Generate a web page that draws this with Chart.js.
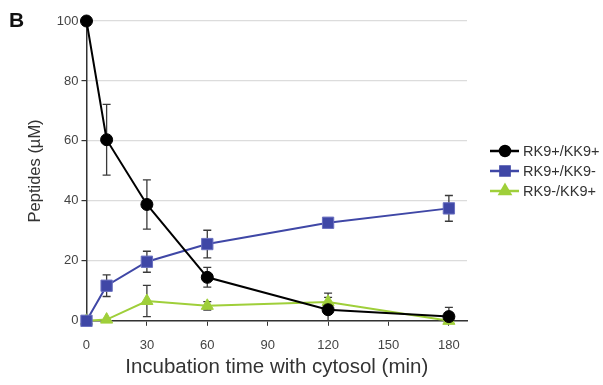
<!DOCTYPE html>
<html><head><meta charset="utf-8">
<script src="https://cdn.jsdelivr.net/npm/chart.js@4"></script>
<style>html,body{margin:0;padding:0;background:#fff;}#wrap{position:relative;width:603px;height:385px;}</style>
</head><body><div id="wrap"><canvas id="c" width="603" height="385"></canvas></div>
<script>
const times = [0, 10, 30, 60, 120, 180];
const xTicks = [0, 30, 60, 90, 120, 150, 180];
const seriesLabels = ['RK9+/KK9+', 'RK9+/KK9-', 'RK9-/KK9+'];
const rk9kk9 = [100, 60.4, 38.8, 14.5, 3.7, 1.4];
const rk9kk9Err = [0, 11.8, 8.2, 3.3, 5.5, 3.1];
const rk9only = [0, 11.7, 19.7, 25.6, 32.7, 37.5];
const rk9onlyErr = [0, 3.6, 3.5, 4.6, 0, 4.3];
const kk9only = [0, 0.4, 6.6, 5.0, 6.3, 0];
const kk9onlyErr = [0, 0, 5.2, 1.4, 1.5, 0];

const colors = ['#000000', '#3f47a6', '#9fcf3a'];
const styles = ['circle', 'rect', 'triangle'];
const radii = [6, 8, 7];
const errs = [rk9kk9Err, rk9onlyErr, kk9onlyErr];
const FONT = '"Liberation Sans", Arial, sans-serif';

const errorBars = {
  id: 'errorBars',
  beforeDatasetsDraw(chart) {
    const ctx = chart.ctx, xs = chart.scales.x, ys = chart.scales.y;
    ctx.save();
    ctx.strokeStyle = '#3a3a3a';
    ctx.lineWidth = 1.3;
    chart.data.datasets.forEach((ds, i) => {
      ds.data.forEach((p, j) => {
        const e = errs[i][j];
        if (!e) return;
        const x = xs.getPixelForValue(p.x);
        const yt = ys.getPixelForValue(p.y + e);
        const yb = ys.getPixelForValue(Math.max(p.y - e, ys.min));
        ctx.beginPath();
        ctx.moveTo(x, yt); ctx.lineTo(x, yb);
        ctx.moveTo(x - 4, yt); ctx.lineTo(x + 4, yt);
        if (p.y - e >= ys.min) { ctx.moveTo(x - 4, yb); ctx.lineTo(x + 4, yb); }
        ctx.stroke();
      });
    });
    ctx.restore();
  }
};

const customLegend = {
  id: 'customLegend',
  afterDraw(chart) {
    const ctx = chart.ctx;
    ctx.save();
    chart.data.datasets.forEach((ds, i) => {
      const y = 151 + i * 20;
      ctx.strokeStyle = colors[i];
      ctx.lineWidth = 2.5;
      ctx.beginPath(); ctx.moveTo(490, y); ctx.lineTo(519, y); ctx.stroke();
      Chart.helpers.drawPoint(ctx, {pointStyle: styles[i], radius: [5, 6.5, 6][i], rotation: 0, borderWidth: 1}, 505, y);
      ctx.fillStyle = colors[i];
      ctx.fill();
      ctx.fillStyle = '#333';
      ctx.font = '14.5px ' + FONT;
      ctx.textBaseline = 'middle';
      ctx.textAlign = 'left';
      ctx.fillText(ds.label, 523, y + 0.5);
    });
    ctx.fillStyle = '#111';
    ctx.font = 'bold 21px ' + FONT;
    ctx.textBaseline = 'alphabetic';
    ctx.fillText('B', 9, 27);
    ctx.restore();
  }
};

const datasets = [rk9kk9, rk9only, kk9only].map((vals, i) => ({
  label: seriesLabels[i],
  data: times.map((t, j) => ({x: t, y: vals[j]})),
  borderColor: colors[i],
  backgroundColor: colors[i],
  pointBackgroundColor: colors[i],
  pointBorderColor: i === 1 ? '#6a70c0' : colors[i],
  pointStyle: styles[i],
  pointRadius: radii[i],
  pointBorderWidth: 1,
  borderWidth: 2,
  tension: 0,
  clip: false
}));

new Chart(document.getElementById('c'), {
  type: 'line',
  data: {datasets},
  plugins: [errorBars, customLegend],
  options: {
    responsive: false,
    animation: false,
    layout: {padding: {left: 22, right: 136, top: 21, bottom: 5}},
    plugins: {legend: {display: false}, tooltip: {enabled: false}},
    scales: {
      x: {
        type: 'linear', min: 0, max: 189,
        afterBuildTicks(scale) { scale.ticks = xTicks.map(v => ({value: v})); },
        grid: {display: true, drawOnChartArea: false, drawTicks: true, tickLength: 5, color: '#333'},
        border: {display: true, color: '#333', width: 1.5},
        ticks: {color: '#444', font: {size: 13, family: FONT}, padding: 12, maxRotation: 0},
        title: {display: true, text: 'Incubation time with cytosol (min)', color: '#333', font: {size: 20.5, family: FONT}, padding: {top: -10, bottom: 0}}
      },
      y: {
        min: 0, max: 100,
        ticks: {stepSize: 20, color: '#444', font: {size: 13, family: FONT}, padding: 3},
        grid: {color: '#dcdcdc', lineWidth: 1.2, tickLength: 5, tickColor: '#333', drawTicks: true},
        border: {display: true, color: '#333', width: 1.5},
        title: {display: true, text: 'Peptides (µM)', color: '#333', font: {size: 16.5, family: FONT}, padding: {bottom: 8}}
      }
    }
  }
});
</script></body></html>
